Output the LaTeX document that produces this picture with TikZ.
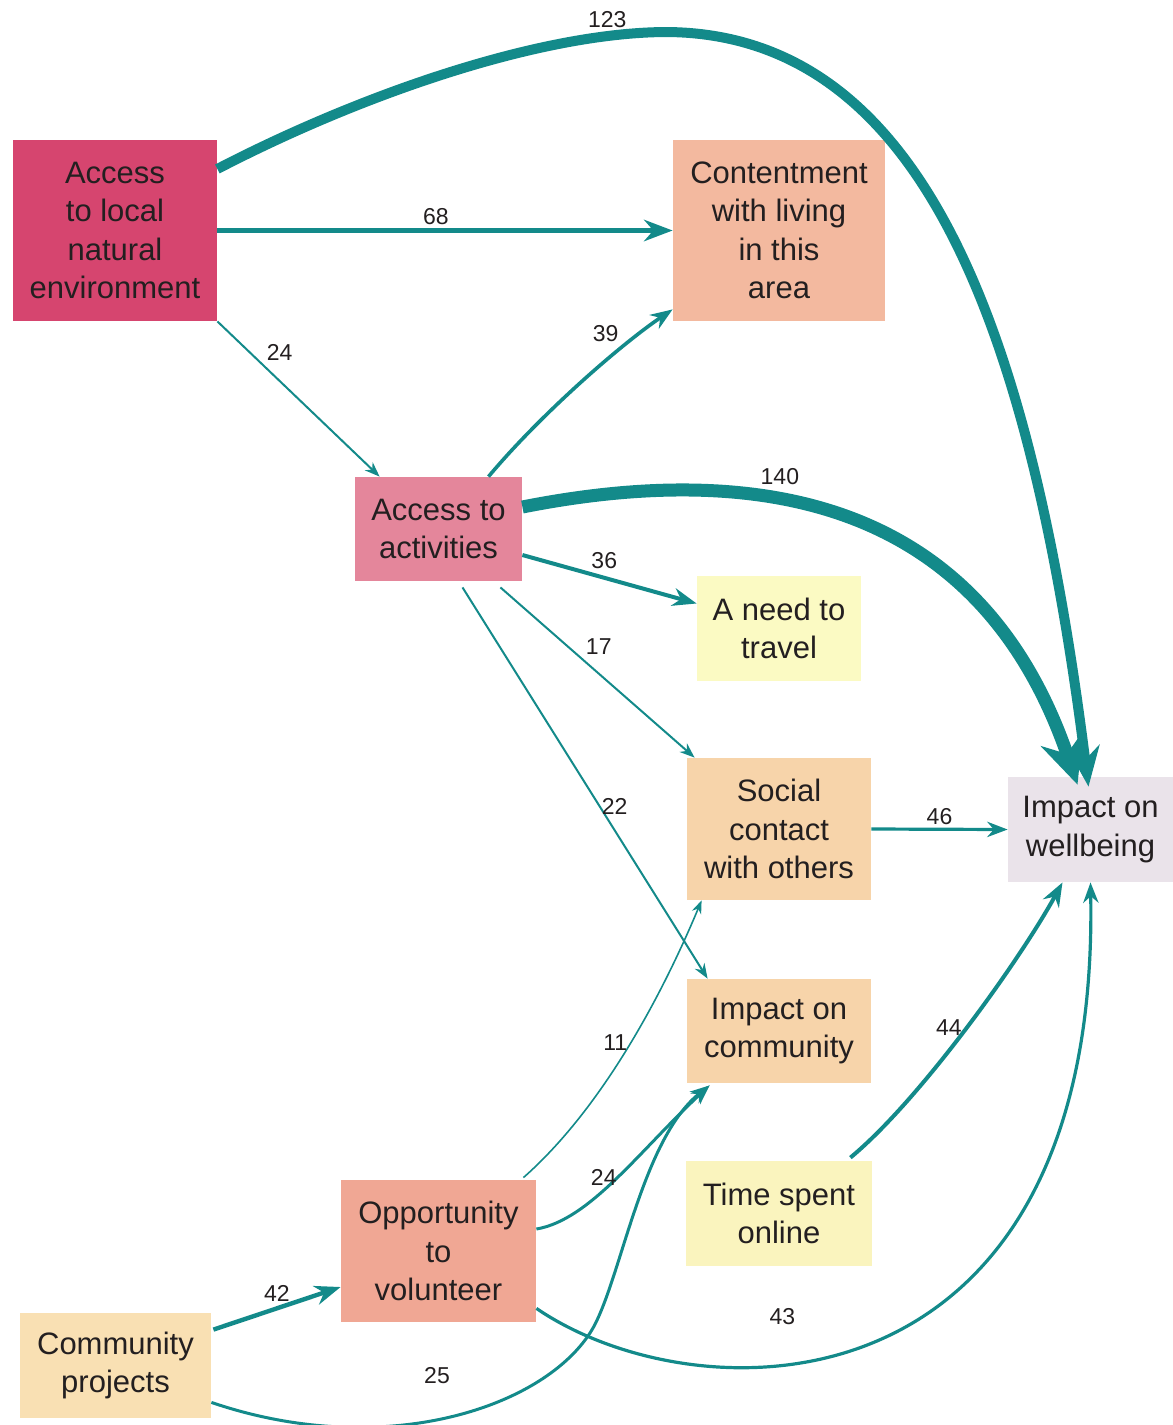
\documentclass[tikz,border=0pt]{standalone}
\usepackage{fontspec}
\setmainfont{Liberation Sans}
\usetikzlibrary{arrows.meta,calc}

\definecolor{flow}{HTML}{138A8A}
\definecolor{ink}{HTML}{231F20}
\definecolor{cEnv}{HTML}{D6456F}
\definecolor{cContent}{HTML}{F3B99F}
\definecolor{cAct}{HTML}{E4869B}
\definecolor{cTravel}{HTML}{FBFAC3}
\definecolor{cSocial}{HTML}{F7D4AA}
\definecolor{cWell}{HTML}{EAE3EA}
\definecolor{cOnline}{HTML}{FAF4BE}
\definecolor{cVol}{HTML}{F0A794}
\definecolor{cProj}{HTML}{F9E0B3}

\begin{document}
\begin{tikzpicture}[x=0.5pt,y=-0.5pt,
	box/.style={rectangle,inner sep=0pt,align=center,text=ink,font=\fontsize{15.5}{19.2}\selectfont},
	flw/.style={draw=flow,-{Stealth}},
	num/.style={font=\fontsize{11.5}{13}\selectfont,text=ink,inner sep=1.5pt}]
	\useasboundingbox (0,0) rectangle (1173,1425);

	\node[box,fill=cEnv,minimum width=102pt,minimum height=90.5pt] (env) at (115,230.5) {Access\\to local\\natural\\environment};
	\node[box,fill=cContent,minimum width=106pt,minimum height=90.5pt] (content) at (779,230.5) {Contentment\\with living\\in this\\area};
	\node[box,fill=cAct,minimum width=83.5pt,minimum height=52pt] (act) at (438.5,529) {Access to\\activities};
	\node[box,fill=cTravel,minimum width=82pt,minimum height=52.5pt] (travel) at (779,628.5) {A need to\\travel};
	\node[box,fill=cSocial,minimum width=92pt,minimum height=71pt] (social) at (779,829) {Social\\contact\\with others};
	\node[box,fill=cWell,minimum width=82.5pt,minimum height=52.5pt] (well) at (1090.5,829.5) {Impact on\\wellbeing};
	\node[box,fill=cSocial,minimum width=92pt,minimum height=52pt] (comimp) at (779,1031) {Impact on\\community};
	\node[box,fill=cOnline,minimum width=93pt,minimum height=52.5pt] (online) at (779,1213.5) {Time spent\\online};
	\node[box,fill=cVol,minimum width=97.5pt,minimum height=71pt] (vol) at (438.5,1251) {Opportunity\\to\\volunteer};
	\node[box,fill=cProj,minimum width=95.5pt,minimum height=52.5pt] (proj) at (115.5,1365.5) {Community\\projects};

	\draw[flw,line width=5pt,-{Stealth[length=20pt,width=16pt]}] (env.31) .. controls (360,95) and (540,32) .. (668,32) node[num,pos=0.85,above]{123} .. controls (920,35) and (1030,320) .. ($(well.north)+(-2,10)$);
	\draw[flw,line width=2.5pt] (env.east) -- (content.west) node[num,pos=0.48,above]{68};
	\draw[flw,line width=1pt] (env.south east) -- ($(act.north west)+(25,0)$) node[num,pos=0.28,above right]{24};
	\draw[flw,line width=1.8pt] ($(act.north)+(50,0)$) .. controls (540,415) and (620,345) .. ($(content.south west)+(0,-12)$) node[num,pos=0.72,above left]{39};
	\draw[flw,line width=6.5pt,-{Stealth[length=24pt,width=22pt]}] ($(act.east)+(0,-22)$) .. controls (760,460) and (980,500) .. ($(well.north)+(-13,8)$) node[num,pos=0.38,above=3pt]{140};
	\draw[flw,line width=2pt] ($(act.east)+(0,26)$) -- ($(travel.west)+(0,-25)$) node[num,pos=0.47,above=2pt]{36};
	\draw[flw,line width=1pt] ($(act.south east)+(-22,6)$) -- ($(social.north west)+(8,0)$) node[num,pos=0.42,above right]{17};
	\draw[flw,line width=1pt] ($(act.south)+(24,6)$) -- ($(comimp.north west)+(21,0)$) node[num,pos=0.56,right=-1pt]{22};
	\draw[flw,line width=1.6pt] (social.east) -- (well.west) node[num,midway,above]{46};
	\draw[flw,line width=2pt] ($(online.north east)+(-22,-3)$) .. controls (920,1100) and (1020,960) .. ($(well.south)+(-28,0)$) node[num,pos=0.5,left]{44};
	\draw[flw,line width=0.8pt] ($(vol.north east)+(-13,-2)$) .. controls (600,1110) and (660,1000) .. ($(social.south west)+(15,0)$) node[num,pos=0.53,left]{11};
	\draw[flw,line width=1.5pt] ($(vol.east)+(0,-22)$) .. controls (590,1220) and (640,1150) .. ($(comimp.south west)+(23,2)$) node[num,pos=0.42,above]{24};
	\draw[flw,line width=1.6pt] ($(vol.south east)+(0,-14)$) .. controls (700,1420) and (1100,1420) .. (well.south) node[num,pos=0.37,above=18pt]{43};
	\draw[flw,line width=2.2pt] ($(proj.north east)+(2,17)$) -- ($(vol.west)+(0,36)$) node[num,midway,above=1pt]{42};
	\draw[flw,line width=1.5pt] ($(proj.south east)+(0,-16)$) .. controls (380,1460) and (540,1410) .. (590,1333) node[num,pos=0.48,above=16pt]{25} .. controls (620,1287) and (640,1140) .. ($(comimp.south west)+(23,2)$);
\end{tikzpicture}
\end{document}
